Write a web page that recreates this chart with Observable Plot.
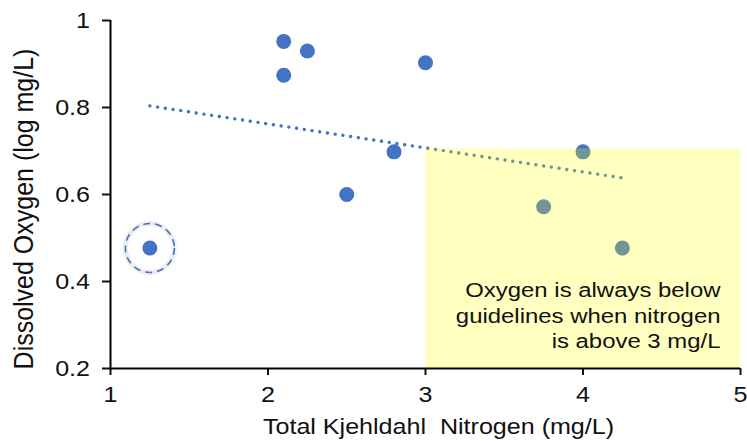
<!DOCTYPE html>
<html><head><meta charset="utf-8">
<script src="https://cdn.jsdelivr.net/npm/d3@7"></script>
<script src="https://cdn.jsdelivr.net/npm/@observablehq/plot@0.6"></script>
<style>body{margin:0;background:#fff} svg{display:block}</style>
</head><body><div id="chart"></div>
<script>
const nitrogen = [1.25, 2.1, 2.25, 2.1, 3.0, 2.8, 2.5, 4.0, 3.75, 4.25];
const oxygen = [0.477, 0.952, 0.93, 0.874, 0.903, 0.698, 0.6, 0.698, 0.572, 0.477];
const highlightIndex = [0];
const xTicks = [1, 2, 3, 4, 5];
const yTicks = [0.2, 0.4, 0.6, 0.8, 1];
const zoneX = [3, 5];
const zoneY = [0.2, 0.705];
const xTitle = "Total Kjehldahl  Nitrogen (mg/L)";
const yTitle = "Dissolved Oxygen (log mg/L)";
const note = "Oxygen is always below\nguidelines when nitrogen\nis above 3 mg/L";

const data = nitrogen.map((x, i) => ({x, y: oxygen[i]}));
const highlighted = highlightIndex.map(i => data[i]);
const zone = [{x1: zoneX[0], x2: zoneX[1], y1: zoneY[0], y2: zoneY[1]}];
const blue = "#4472C4";

const plot = Plot.plot({
  width: 747, height: 441,
  marginLeft: 110, marginRight: 7, marginTop: 20, marginBottom: 73,
  style: {fontFamily: "'Liberation Sans', Arial, sans-serif", background: "#fff", color: "#111", fontSize: "22px"},
  x: {domain: [1, 5], ticks: xTicks},
  y: {domain: [0.2, 1], ticks: yTicks},
  marks: [
    Plot.dot(highlighted, {x: "x", y: "y", r: 24.5, stroke: "#000", strokeOpacity: 0.07, strokeWidth: 5}),
    Plot.dot(highlighted, {x: "x", y: "y", r: 24.5, stroke: blue, strokeWidth: 1.6, strokeDasharray: "7,5"}),
    Plot.linearRegressionY(data, {x: "x", y: "y", ci: 0, stroke: blue, strokeWidth: 3.4, strokeDasharray: "0.01,7.8", strokeLinecap: "round"}),
    Plot.dot(data, {x: "x", y: "y", r: 7.5, fill: blue}),
    Plot.rect(zone, {x1: "x1", x2: "x2", y1: "y1", y2: "y2", fill: "#ffff00", fillOpacity: 0.25}),
    Plot.axisX({ticks: xTicks, tickSize: 7, tickPadding: 11, tickFormat: d => String(d), label: null, strokeWidth: 2}),
    Plot.axisY({ticks: yTicks, tickSize: 8, tickPadding: 12.5, tickFormat: d => String(d), label: null, strokeWidth: 2}),
    Plot.ruleY([0.2], {stroke: "#000", strokeWidth: 2}),
    Plot.ruleX([1], {stroke: "#000", strokeWidth: 2}),
    Plot.text([xTitle], {text: d => d, frameAnchor: "bottom", textAnchor: "middle", lineAnchor: "top", dx: 13, dy: 50, fontSize: 22}),
    Plot.text([yTitle], {text: d => d, frameAnchor: "left", textAnchor: "middle", lineAnchor: "middle", rotate: -90, dx: -86.5, dy: 14.5, fontSize: 25}),
    Plot.text([note], {text: d => d, frameAnchor: "bottom-right", textAnchor: "end", lineAnchor: "middle", dx: -20, dy: -54, fontSize: 21, lineHeight: 1.21})
  ]
});

plot.querySelectorAll("text").forEach(t => {
  const tr = t.getAttribute("transform") || "";
  if (tr.includes("rotate")) t.setAttribute("transform", tr + " scale(1,1.12)");
  else t.setAttribute("transform", tr + " scale(1.14,1)");
});

document.getElementById("chart").appendChild(plot);
</script>
</body></html>
